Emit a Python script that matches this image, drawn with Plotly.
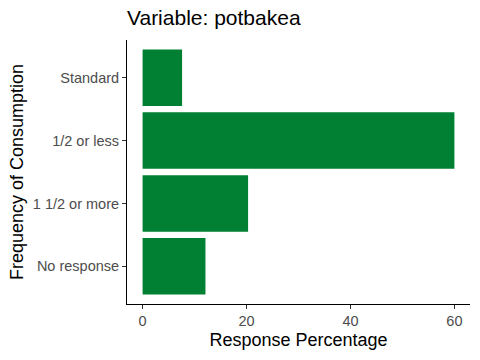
import plotly.graph_objects as go

categories = ["Standard", "1/2 or less", "1 1/2 or more", "No response"]
values = [7.6, 60.0, 20.3, 12.1]
x_ticks = [0, 20, 40, 60]

fig = go.Figure(go.Bar(
    x=values, y=categories, orientation="h",
    marker=dict(color="#017F32", line=dict(width=0)),
    width=0.9,
))

fig.update_layout(
    width=480, height=360,
    margin=dict(l=127, r=10, t=40, b=56, autoexpand=False),
    paper_bgcolor="white", plot_bgcolor="white",
    font=dict(family="Liberation Sans, Arial, sans-serif"),
    title=dict(text="Variable: potbakea", x=0, xref="paper", xanchor="left",
               y=1, yref="container", yanchor="top", pad=dict(t=10),
               font=dict(size=21, color="black")),
    showlegend=False,
    bargap=0.1,
)

fig.update_xaxes(
    automargin=False,
    range=[-3, 63], tickvals=x_ticks, ticktext=[str(v) for v in x_ticks],
    showgrid=False, zeroline=False,
    showline=True, linecolor="black", linewidth=1,
    ticks="outside", ticklen=4, tickcolor="#333333", tickwidth=1,
    tickfont=dict(size=14.5, color="#4D4D4D"),
    title=dict(text="Response Percentage", font=dict(size=18, color="black"), standoff=4),
)
fig.update_yaxes(
    automargin=False,
    categoryorder="array", categoryarray=categories,
    range=[3.6, -0.6],
    showgrid=False, zeroline=False,
    showline=True, linecolor="black", linewidth=1,
    ticks="outside", ticklen=4, tickcolor="#333333", tickwidth=1,
    tickfont=dict(size=14.5, color="#4D4D4D"),
    title=dict(text="Frequency of Consumption", font=dict(size=18, color="black"), standoff=4),
)

fig.write_html("out.html", config={"displayModeBar": False},
               post_script="document.body.style.margin='0';")
